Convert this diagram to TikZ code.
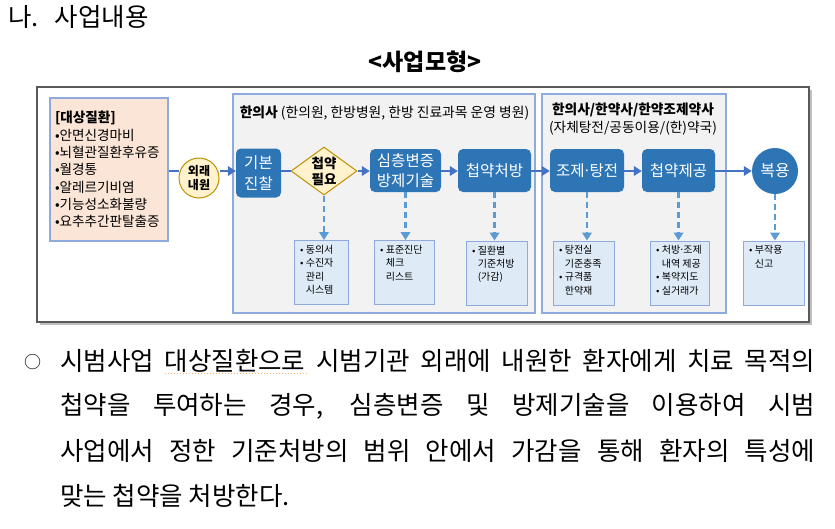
\documentclass[tikz,border=0pt]{standalone}
\usepackage{fontspec}
\setmainfont{Noto Sans CJK KR}
\usepackage{tikz}
\usetikzlibrary{positioning, shapes.geometric}
\usetikzlibrary{arrows.meta}
\tikzset{>={Triangle[length=8pt,width=9.5pt]}}
\definecolor{nodeblue}{HTML}{2E75B6}
\definecolor{flowblue}{HTML}{4472C4}
\definecolor{dashblue}{HTML}{5B9BD5}
\definecolor{groupedge}{HTML}{8FAADC}
\definecolor{groupfill}{HTML}{F2F2F2}
\definecolor{notefill}{HTML}{DEEBF7}
\definecolor{noteedge}{HTML}{8EA9DB}
\definecolor{peach}{HTML}{FBE5D6}
\definecolor{paleyellow}{HTML}{FFF2CC}
\definecolor{darkgold}{HTML}{BF9000}
\definecolor{framegray}{HTML}{595959}
\newcommand{\setfs}[2]{\fontsize{#1}{#2}\selectfont}
\newcommand{\mdot}{\makebox[0.32em]{·}}

\begin{document}
\begin{tikzpicture}[x=1pt, y=-1pt,
    mainbox/.style={rectangle, rounded corners=5pt, fill=nodeblue, text=white, align=center, inner sep=0pt, font=\setfs{15.5}{19.5}},
    decide/.style={diamond, aspect=1.4, fill=paleyellow, draw=darkgold, line width=1pt, inner sep=0pt, minimum width=66pt, minimum height=48pt, align=center, font=\bfseries\setfs{13.5}{16}},
    group/.style={draw=groupedge, fill=groupfill, line width=1.2pt},
    notebox/.style={draw=noteedge, fill=notefill, line width=1pt, minimum height=64pt, anchor=north west, inner sep=0pt},
    notetext/.style={align=left, inner sep=0pt, font=\setfs{10}{13.4}},
    flow/.style={flowblue, line width=2.5pt},
    hint/.style={dashblue, line width=2.5pt, dash pattern=on 6pt off 4pt},
    body/.style={anchor=west, inner sep=0pt, font=\setfs{25.5}{30}}]
    \useasboundingbox[fill=white] (0,0) rectangle (835,528);
    \node[anchor=west, inner sep=0pt, font=\setfs{25.5}{30}] (head) at (8,16.5) {나.\hskip 16pt 사업내용};
    \node[font=\bfseries\setfs{23}{26}] (cap) at (425,62) {<사업모형>};
    \draw[black!25, line width=2pt] (40,323.5) -- (810.5,323.5) -- (810.5,90);
    \draw[framegray, line width=1.3pt] (37,87) rectangle (809,322);
    \draw[group] (233,94) rectangle (535,313);
    \draw[group] (542,94) rectangle (726,313);
    \node[font=\setfs{13.8}{16}] (t1) at (384.5,113) {\textbf{한의사} (한의원, 한방병원, 한방 진료과목 운영 병원)};
    \node[align=center, font=\setfs{13.7}{18.5}] (t2) at (633,119) {\textbf{한의사/한약사/한약조제약사}\\(자체탕전/공동이용/(한)약국)};
    \coordinate (row) at (0,171);
    \node[draw=groupedge, fill=peach, line width=1.2pt, minimum width=118pt, minimum height=143pt, text width=108pt, inner xsep=5pt, align=left, font=\setfs{13.6}{17.3}] (dz) at (109,169.5) {\textbf{[대상질환]}\\•안면신경마비\\•뇌혈관질환후유증\\•월경통\\•알레르기비염\\•기능성소화불량\\•요추추간판탈출증};
    \node[circle, fill=paleyellow, draw=darkgold, line width=1pt, minimum size=40pt, inner sep=0pt, align=center, font=\bfseries\setfs{12}{14.5}] (ow) at (199,178) {외래\\내원};
    \node[mainbox, minimum width=45pt, minimum height=49pt, font=\setfs{15.5}{21.5}] (k1) at (258.5,173) {기본\\진찰};
    \node[decide] (dc) at (324,171) {첩약\\필요};
    \node[mainbox, minimum width=71pt, minimum height=43pt] (sc) at (405.5,170.5) {심층변증\\방제기술};
    \node[mainbox, minimum width=73pt, minimum height=43pt] (rx) at (494.5,170.5) {첩약처방};
    \node[mainbox, minimum width=74pt, minimum height=43pt] (jt) at (587,170.5) {조제\mdot 탕전};
    \node[mainbox, minimum width=73pt, minimum height=43pt] (sp) at (678.5,170.5) {첩약제공};
    \node[circle, fill=nodeblue, text=white, minimum size=46pt, inner sep=0pt, font=\setfs{16}{19}] (bo) at (775,171) {복용};
    \draw[flow] (dz.east |- row) -- (ow.west |- row);
    \draw[flow, ->] (ow.east |- row) -- (k1.west |- row);
    \draw[flow] (k1.east |- row) -- (dc.west);
    \draw[flow, ->] (dc.east) -- (sc.west |- row);
    \draw[flow, ->] (sc.east |- row) -- (rx.west |- row);
    \draw[flow, ->] (rx.east |- row) -- (jt.west |- row);
    \draw[flow, ->] (jt.east |- row) -- (sp.west |- row);
    \draw[flow, ->] (sp.east |- row) -- (bo.west);
    \node[notebox, minimum width=54pt] (nA) at (294,240) {};
    \node[notebox, minimum width=60pt] (nB) at (374,240) {};
    \node[notebox, minimum width=61pt] (nC) at (466,240.5) {};
    \node[notebox, minimum width=61pt] (nD) at (553,240.5) {};
    \node[notebox, minimum width=59pt] (nE) at (650,240.5) {};
    \node[notebox, minimum width=61pt] (nF) at (743,240.5) {};
    \node[notetext, below right=5pt and 6pt of nA.north west] (tA) {• 동의서\\• 수진자\\\phantom{• }관리\\\phantom{• }시스템};
    \node[notetext, below right=5pt and 6pt of nB.north west] (tB) {• 표준진단\\\phantom{• }체크\\\phantom{• }리스트};
    \node[notetext, below right=5pt and 6pt of nC.north west] (tC) {• 질환별\\\phantom{• }기준처방\\\phantom{• }(가감)};
    \node[notetext, below right=5pt and 6pt of nD.north west] (tD) {• 탕전실\\\phantom{• }기준충족\\• 규격품\\\phantom{• }한약재};
    \node[notetext, below right=5pt and 6pt of nE.north west] (tE) {• 처방\mdot 조제\\\phantom{• }내역 제공\\• 복약지도\\• 실거래가};
    \node[notetext, below right=5pt and 6pt of nF.north west] (tF) {• 부작용\\\phantom{• }신고};
    \draw[hint, ->] (dc.south) -- (dc.south |- nA.north);
    \draw[hint, ->] (sc.south) -- (sc.south |- nB.north);
    \draw[hint, ->] (rx.south) -- (rx.south |- nC.north);
    \draw[hint, ->] (jt.south) -- (jt.south |- nD.north);
    \draw[hint, ->] (sp.south) -- (sp.south |- nE.north);
    \draw[hint, ->] (bo.south) -- (bo.south |- nF.north);
    \node[anchor=west, inner sep=0pt, font=\setfs{17}{20}] (bul) at (24,362) {○};
    \node[body] (p1) at (60,361) {\makebox[755pt][s]{시범사업 대상질환으로 시범기관 외래에 내원한 환자에게 치료 목적의}};
    \node[body] (p2) at (60,406) {\makebox[755pt][s]{첩약을 투여하는 경우, 심층변증 및 방제기술을 이용하여 시범}};
    \node[body] (p3) at (60,451) {\makebox[755pt][s]{사업에서 정한 기준처방의 범위 안에서 가감을 통해 환자의 특성에}};
    \node[body] (p4) at (60,496) {맞는 첩약을 처방한다.};
    \draw[orange!60, line width=1pt, dotted] (165,373.5) -- (309,373.5);
\end{tikzpicture}
\end{document}
